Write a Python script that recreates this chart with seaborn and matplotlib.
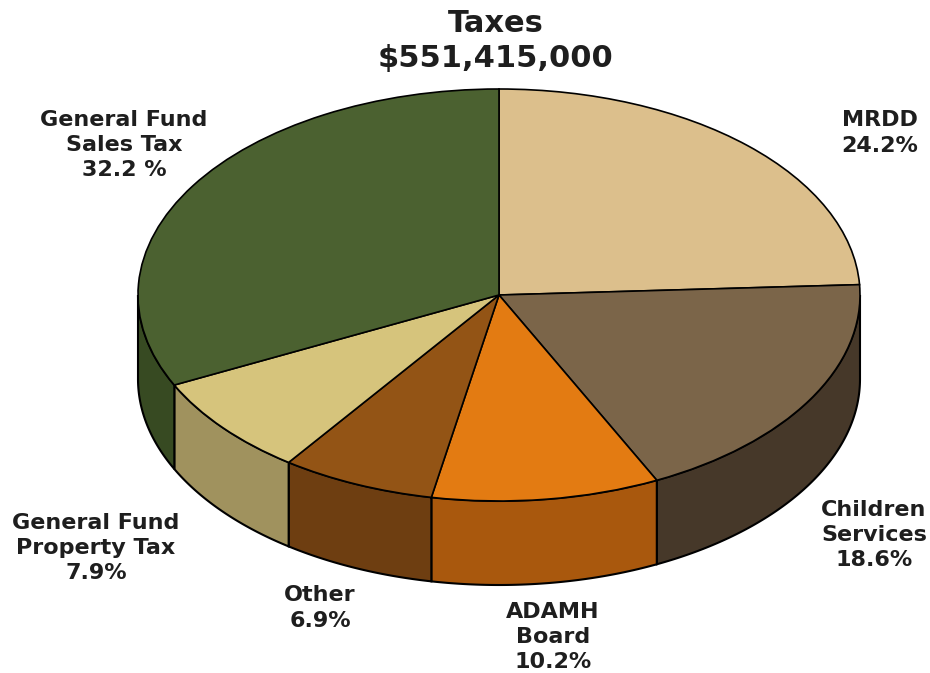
import numpy as np
import matplotlib
matplotlib.use("Agg")
import matplotlib.pyplot as plt
import seaborn as sns
from matplotlib.patches import Polygon
from matplotlib.transforms import Affine2D

# ---- data ----
categories = ["MRDD", "Children Services", "ADAMH Board", "Other",
              "General Fund Property Tax", "General Fund Sales Tax"]
shares = [24.2, 18.6, 10.2, 6.9, 7.9, 32.2]
label_texts = ["MRDD\n24.2%", "Children\nServices\n18.6%", "ADAMH\nBoard\n10.2%",
               "Other\n6.9%", "General Fund\nProperty Tax\n7.9%",
               "General Fund\nSales Tax\n32.2 %"]
title_lines = ["Taxes", "\\$551,415,000"]

# ---- style ----
top_colors = ["#DCBF8C", "#7B6549", "#E37B12", "#935415", "#D6C47C", "#4B6130"]
side_colors = ["#A89067", "#463829", "#A9580D", "#6E3E11", "#A0925E", "#374A22"]
label_pos_px = [(880, 133), (874, 535), (553, 637), (320, 608), (96, 548), (124, 145)]

W, H = 930, 673
px_per_unit = 361.0
cx_px, cy_px = 499, 295
ky = 206 / px_per_unit
depth = 84 / px_per_unit

sns.set_style("white")
plt.rcParams['font.family'] = ['DejaVu Sans']

fig = plt.figure(figsize=(W / 100, H / 100), dpi=100)
ax = fig.add_axes([0, 0, 1, 1])

wedges, _ = ax.pie(shares, colors=top_colors, startangle=90, counterclock=False,
                   radius=1.0, wedgeprops=dict(edgecolor="black", linewidth=1.2))
squash = Affine2D().scale(1, ky) + ax.transData
for w in wedges:
    w.set_transform(squash)
    w.set_zorder(2)

# side walls (front half only)
for w, sc in zip(wedges, side_colors):
    t1, t2 = w.theta1 % 360, w.theta2 % 360
    if t2 <= t1:
        t2 += 360
    for lo, hi in [(180, 360), (540, 720)]:
        a, b = max(t1, lo), min(t2, hi)
        if b <= a:
            continue
        t = np.radians(np.linspace(a, b, 120))
        xs = np.cos(t)
        ys = ky * np.sin(t)
        pts = np.concatenate([np.column_stack([xs, ys]),
                              np.column_stack([xs[::-1], ys[::-1] - depth])])
        ax.add_patch(Polygon(pts, closed=True, facecolor=sc, edgecolor="black",
                             linewidth=1.5, zorder=1))

ax.set_aspect("equal")
ax.set_xlim(-cx_px / px_per_unit, (W - cx_px) / px_per_unit)
ax.set_ylim(-(H - cy_px) / px_per_unit, cy_px / px_per_unit)
ax.axis("off")

# labels
for txt, (x, y) in zip(label_texts, label_pos_px):
    fig.text(x / W, 1 - y / H, txt, ha="center", va="center", multialignment="center",
             fontsize=16, fontweight="bold", color="#1e1e1e", linespacing=1.33)

fig.text(496 / W, 1 - 23 / H, title_lines[0], ha="center", va="center",
         fontsize=22, fontweight="bold", color="#1e1e1e")
fig.text(495 / W, 1 - 58 / H, title_lines[1], ha="center", va="center",
         fontsize=22, fontweight="bold", color="#1e1e1e")

fig.savefig("out.png", dpi=100, facecolor="white")
